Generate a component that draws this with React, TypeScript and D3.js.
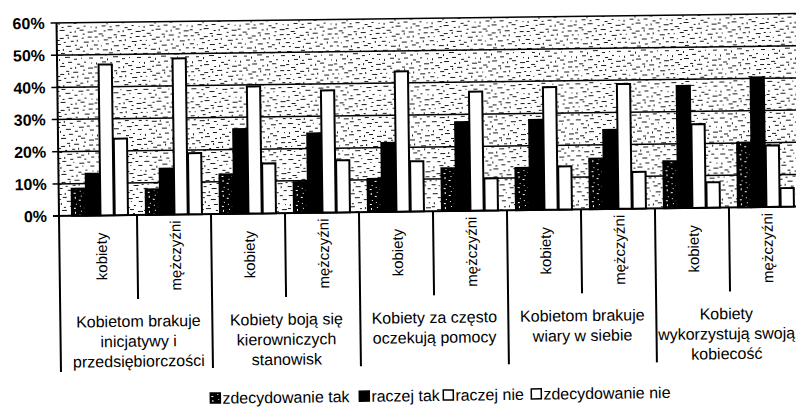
import React from "react";
import * as d3 from "d3";

const groups = [
  ["Kobietom brakuje", "inicjatywy i", "przedsiębiorczości"],
  ["Kobiety boją się", "kierowniczych", "stanowisk"],
  ["Kobiety za często", "oczekują pomocy"],
  ["Kobietom brakuje", "wiary w siebie"],
  ["Kobiety", "wykorzystują swoją", "kobiecość"],
];
const subgroups = ["kobiety", "mężczyźni"];
const seriesNames = ["zdecydowanie tak", "raczej tak", "raczej nie", "zdecydowanie nie"];
const zdecydowanieTak = [8.4, 7.9, 12.3, 9.6, 10.3, 13.3, 13.1, 15.7, 14.6, 20.1];
const raczejTak = [13, 14.3, 26.3, 24.7, 21.4, 27.6, 28, 24.6, 38, 40.3];
const raczejNie = [46.9, 48.5, 39.5, 38, 43.6, 37, 38.1, 38.8, 26, 19.1];
const zdecydowanieNie = [23.8, 19, 15.5, 16.2, 15.6, 10, 13.4, 11.4, 7.9, 5.8];
const yTicks = [0, 10, 20, 30, 40, 50, 60];

const series = [zdecydowanieTak, raczejTak, raczejNie, zdecydowanieNie];
const fills = ["url(#darkPat)", "#000", "#fff", "#fff"];

const FONT = "'Liberation Sans', Arial, sans-serif";

const bgDashes: number[][] = [
  [1, 1, 3, 1], [8, 0, 2, 1], [14, 2, 4, 1], [22, 1, 1, 2], [27, 0, 5, 1], [36, 2, 2, 1], [42, 1, 4, 1],
  [4, 5, 1, 1], [10, 4, 4, 1], [18, 6, 2, 1], [25, 5, 3, 1], [31, 4, 1, 2], [38, 6, 5, 1], [46, 5, 2, 1],
  [0, 9, 4, 1], [7, 10, 1, 1], [12, 8, 3, 1], [20, 10, 5, 1], [29, 9, 2, 1], [34, 11, 3, 1], [41, 9, 1, 2],
  [3, 13, 2, 1], [9, 14, 5, 1], [17, 13, 1, 2], [23, 15, 3, 1], [30, 13, 4, 1], [37, 15, 2, 1], [44, 13, 3, 1],
  [1, 18, 5, 1], [11, 19, 2, 1], [15, 17, 4, 1], [26, 18, 1, 1], [32, 19, 5, 1], [40, 18, 3, 1],
  [6, 22, 3, 1], [13, 23, 1, 2], [19, 21, 5, 1], [28, 23, 3, 1], [35, 22, 1, 1], [43, 22, 4, 1],
  [2, 27, 1, 2], [8, 26, 4, 1], [16, 27, 2, 1], [22, 26, 4, 1], [31, 28, 3, 1], [38, 26, 2, 1], [45, 27, 1, 1],
  [0, 31, 3, 1], [10, 31, 2, 1], [14, 30, 5, 1], [24, 32, 2, 1], [29, 31, 1, 2], [34, 30, 4, 1], [42, 32, 5, 1],
  [5, 34, 4, 1], [20, 35, 3, 1], [37, 34, 2, 1],
];
const darkSpecks: number[][] = [
  [2, 2, 1, 2], [6, 5, 2, 1], [3, 9, 1, 1], [7, 11, 1, 1], [1, 13, 2, 1], [8, 1, 1, 1],
];

export default function App() {
  const labels = d3.range(10).map((i) => subgroups[i % 2] + "-" + i);
  const x0 = d3.scaleBand<string>().domain(labels).range([63, 803]);
  const x1 = d3.scaleBand<number>().domain([0, 1, 2, 3]).range([8.5, 65.5]);
  const y = d3.scaleLinear().domain([0, 60]).range([216, 23]);
  const step = x0.step();
  const left = 59;
  const right = 803;

  const legendX = [208, 357, 441, 529];

  return (
    <svg width={796} height={408} style={{ position: "absolute", left: 0, top: 0, background: "#fff" }}>
      <defs>
        <pattern id="bgPat" width={48} height={36} patternUnits="userSpaceOnUse">
          <rect width={48} height={36} fill="#fff" />
          {bgDashes.map((d, i) => (
            <rect key={i} x={d[0]} y={d[1]} width={d[2]} height={d[3]} fill="#1a1a1a" />
          ))}
        </pattern>
        <pattern id="darkPat" width={10} height={15} patternUnits="userSpaceOnUse">
          <rect width={10} height={15} fill="#000" />
          {darkSpecks.map((d, i) => (
            <rect key={i} x={d[0]} y={d[1]} width={d[2]} height={d[3]} fill="#fff" />
          ))}
        </pattern>
      </defs>
      <g transform="rotate(-0.73, 58, 216)" fontFamily={FONT}>
        <rect x={left} y={y(60)} width={right - left} height={y(0) - y(60)} fill="url(#bgPat)" />
        {yTicks.map((t) => (
          <g key={t}>
            <line x1={left - 6} x2={right} y1={y(t)} y2={y(t)} stroke="#000" strokeWidth={t === 0 ? 2 : 1.5} />
            <text x={47} y={y(t)} dy="0.36em" textAnchor="end" fontSize={16} fontWeight="bold">
              {t + "%"}
            </text>
          </g>
        ))}
        {labels.map((lab, i) => (
          <g key={lab} transform={`translate(${x0(lab)},0)`}>
            {series.map((s, k) => (
              <rect
                key={k}
                x={x1(k)! + 0.5}
                y={y(s[i])}
                width={x1.bandwidth() - 1}
                height={y(0) - y(s[i])}
                fill={fills[k]}
                stroke="#000"
                strokeWidth={2}
              />
            ))}
          </g>
        ))}
        <line x1={left} x2={left} y1={y(60)} y2={372} stroke="#000" strokeWidth={2} />
        {d3.range(1, 10).map((i) => (
          <line
            key={i}
            x1={x0(labels[i])!}
            x2={x0(labels[i])!}
            y1={216}
            y2={i % 2 === 0 ? 370 : 300}
            stroke="#000"
            strokeWidth={2}
          />
        ))}
        {labels.map((lab, i) => (
          <text
            key={lab}
            transform={`translate(${x0(lab)! + step / 2 + 1},257) rotate(-90)`}
            textAnchor="middle"
            dy="0.36em"
            fontSize={15}
          >
            {subgroups[i % 2]}
          </text>
        ))}
        {groups.map((g, gi) => {
          const cx = x0(labels[gi * 2])! + step - (gi === groups.length - 1 ? 4 : 0);
          return (
            <text key={gi} x={cx} y={322} textAnchor="middle" fontSize={16}>
              {g.map((line, li) => (
                <tspan key={li} x={cx} y={322 + li * 20} dy="0.36em">
                  {line}
                </tspan>
              ))}
            </text>
          );
        })}
        {seriesNames.map((name, k) => (
          <g key={name} transform={`translate(${legendX[k]},400)`}>
            <rect x={0} y={-5} width={10} height={10} fill={fills[k]} stroke="#000" strokeWidth={1.5} />
            <text x={12} y={0} dy="0.36em" fontSize={16}>
              {name}
            </text>
          </g>
        ))}
      </g>
    </svg>
  );
}
